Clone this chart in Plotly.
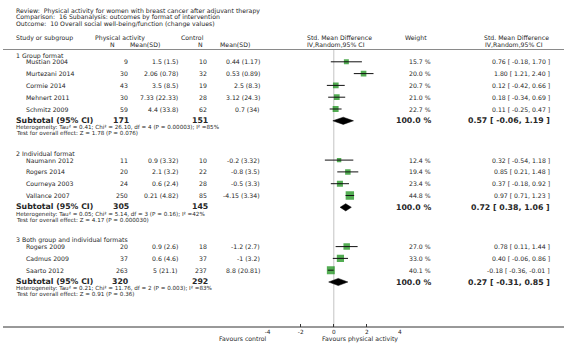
import plotly.graph_objects as go

W, H = 566, 357

# ---------------- data ----------------
title_lines = [
    "Review:  Physical activity for women with breast cancer after adjuvant therapy",
    "Comparison:  16 Subanalysis: outcomes by format of intervention",
    "Outcome:  10 Overall social well-being/function (change values)",
]
group_names = ["1 Group format", "2 Individual format", "3 Both group and individual formats"]
study_names = [
    ["Mustian 2004", "Murtezani 2014", "Cormie 2014", "Mehnert 2011", "Schmitz 2009"],
    ["Naumann 2012", "Rogers 2014", "Courneya 2003", "Vallance 2007"],
    ["Rogers 2009", "Cadmus 2009", "Saarto 2012"],
]
pa_n = [[9, 30, 43, 30, 59], [11, 20, 24, 250], [20, 37, 263]]
pa_msd = [["1.5 (1.5)", "2.06 (0.78)", "3.5 (8.5)", "7.33 (22.33)", "4.4 (33.8)"],
          ["0.9 (3.32)", "2.1 (3.2)", "0.6 (2.4)", "0.21 (4.82)"],
          ["0.9 (2.6)", "0.6 (4.6)", "5 (21.1)"]]
ct_n = [[10, 32, 19, 28, 62], [10, 22, 28, 85], [18, 37, 237]]
ct_msd = [["0.44 (1.17)", "0.53 (0.89)", "2.5 (8.3)", "3.12 (24.3)", "0.7 (34)"],
          ["-0.2 (3.32)", "-0.8 (3.5)", "-0.5 (3.3)", "-4.15 (3.34)"],
          ["-1.2 (2.7)", "-1 (3.2)", "8.8 (20.81)"]]
weights = [[15.7, 20.0, 20.7, 21.0, 22.7], [12.4, 19.4, 23.4, 44.8], [27.0, 33.0, 40.1]]
smd = [[0.76, 1.80, 0.12, 0.18, 0.11], [0.32, 0.85, 0.37, 0.97], [0.78, 0.40, -0.18]]
ci_lo = [[-0.18, 1.21, -0.42, -0.34, -0.25], [-0.54, 0.21, -0.18, 0.71], [0.11, -0.06, -0.36]]
ci_hi = [[1.70, 2.40, 0.66, 0.69, 0.47], [1.18, 1.48, 0.92, 1.23], [1.44, 0.86, -0.01]]

sub_pa_n = [171, 305, 320]
sub_ct_n = [151, 145, 292]
sub_smd = [0.57, 0.72, 0.27]
sub_lo = [-0.06, 0.38, -0.31]
sub_hi = [1.19, 1.06, 0.85]
heterogeneity = [
    "Heterogeneity: Tau² = 0.41; Chi² = 26.10, df = 4 (P = 0.00003); I² =85%",
    "Heterogeneity: Tau² = 0.05; Chi² = 5.14, df = 3 (P = 0.16); I² =42%",
    "Heterogeneity: Tau² = 0.21; Chi² = 11.76, df = 2 (P = 0.003); I² =83%",
]
overall = [
    "Test for overall effect: Z = 1.78 (P = 0.076)",
    "Test for overall effect: Z = 4.17 (P = 0.000030)",
    "Test for overall effect: Z = 0.91 (P = 0.36)",
]
tick_vals = [-4, -2, 0, 2, 4]
tick_text = ["-4", "-2", "0", "2", "4"]
favours_left = "Favours control"
favours_right = "Favours physical activity"

# ---------------- layout helpers ----------------
FONT = "DejaVu Sans"
TXT = "#262626"
FS = 6.2
FS_SMALL = 5.6
FS_BOLD = 7.8
GREEN = "#0a8a0a"

def fmt_ci(e, lo, hi):
    return f"{e:.2f} [ {lo:.2f}, {hi:.2f} ]"

annotations = []

def txt(x, y, s, anchor="left", size=FS, bold=False):
    annotations.append(dict(
        x=x / W, xref="paper", y=y, yref="y", text=f"<b>{s}</b>" if bold else s,
        showarrow=False, xanchor=anchor, yanchor="middle",
        font=dict(family=FONT, size=size, color=TXT), borderpad=0, borderwidth=0))

# column positions (px)
X_LEFT = 13
X_STUDY = 23
X_PAN = 126
X_PAMSD = 177
X_CTN = 206
X_CTMSD = 259
X_WEIGHT = 432
X_CI = 552

# title + header
for i, line in enumerate(title_lines):
    txt(X_LEFT, 10.5 + 6.8 * i, line)
txt(X_LEFT, 38, "Study or subgroup")
txt(93, 37.5, "Physical activity")
txt(110, 44, "N", anchor="center")
txt(X_PAMSD - 19, 44, "Mean(SD)", anchor="right")
txt(180, 37.5, "Control")
txt(199, 44, "N", anchor="center")
txt(249, 44, "Mean(SD)", anchor="right")
txt(307, 37.5, "Std. Mean Difference")
txt(307, 44, "IV,Random,95% CI")
txt(406, 37.5, "Weight")
txt(485, 37.5, "Std. Mean Difference")
txt(486, 44, "IV,Random,95% CI")

# compute row positions
STEP = 11.8
rows_y = []
group_y = []
sub_y = []
het_y = []
test_y = []
y = 55.5
for g in range(3):
    group_y.append(y)
    ys = [y + 6.3 + STEP * i for i in range(len(study_names[g]))]
    rows_y.append(ys)
    sy = ys[-1] + STEP
    sub_y.append(sy)
    het_y.append(sy + 6.8)
    test_y.append(sy + 12.2)
    y = sy + 11.0 + 22.0

fig = go.Figure()

ci_x, ci_y = [], []
for g in range(3):
    txt(X_LEFT, group_y[g], group_names[g])
    for i, name in enumerate(study_names[g]):
        yy = rows_y[g][i]
        txt(X_STUDY, yy, name)
        txt(X_PAN, yy, str(pa_n[g][i]), anchor="right")
        txt(X_PAMSD, yy, pa_msd[g][i], anchor="right")
        txt(X_CTN, yy, str(ct_n[g][i]), anchor="right")
        txt(X_CTMSD, yy, ct_msd[g][i], anchor="right")
        txt(X_WEIGHT, yy, f"{weights[g][i]:.1f} %", anchor="right")
        txt(X_CI, yy, fmt_ci(smd[g][i], ci_lo[g][i], ci_hi[g][i]), anchor="right")
        ci_x += [ci_lo[g][i], ci_hi[g][i], None]
        ci_y += [yy, yy, None]
    sy = sub_y[g]
    txt(X_LEFT, sy - 0.5, "Subtotal (95% CI)", size=FS_BOLD, bold=True)
    txt(X_PAN + 1, sy - 0.5, str(sub_pa_n[g]), anchor="right", size=FS_BOLD, bold=True)
    txt(X_CTN + 1, sy - 0.5, str(sub_ct_n[g]), anchor="right", size=FS_BOLD, bold=True)
    txt(X_WEIGHT, sy, "100.0 %", anchor="right", size=FS_BOLD, bold=True)
    txt(X_CI, sy, fmt_ci(sub_smd[g], sub_lo[g], sub_hi[g]), anchor="right", size=FS_BOLD, bold=True)
    txt(X_LEFT, het_y[g], heterogeneity[g], size=FS_SMALL)
    txt(X_LEFT, test_y[g], overall[g], size=FS_SMALL)

# squares
for g in range(3):
    fig.add_trace(go.Scatter(
        x=smd[g], y=rows_y[g], mode="markers",
        marker=dict(symbol="square", color=GREEN,
                    size=[1.25 * (w ** 0.5) for w in weights[g]],
                    line=dict(width=0)),
        hoverinfo="skip", showlegend=False))
# CI lines
fig.add_trace(go.Scatter(x=ci_x, y=ci_y, mode="lines",
                         line=dict(color="#111111", width=1),
                         hoverinfo="skip", showlegend=False))
# diamonds
for g in range(3):
    yc = sub_y[g]
    fig.add_trace(go.Scatter(
        x=[sub_lo[g], sub_smd[g], sub_hi[g], sub_smd[g], sub_lo[g]],
        y=[yc, yc - 3.6, yc, yc + 3.6, yc],
        mode="lines", fill="toself", fillcolor="#000000",
        line=dict(color="#000000", width=0.5),
        hoverinfo="skip", showlegend=False))

AX_Y = 327
txt(266, 338.5, favours_left, anchor="right")
txt(322, 339, favours_right)

HDR_Y = 49.5
shapes = [
    dict(type="line", xref="paper", yref="y", x0=0, x1=1, y0=HDR_Y, y1=HDR_Y,
         line=dict(color="#8a8a8a", width=1)),
    dict(type="line", xref="x", yref="y", x0=0, x1=0, y0=HDR_Y, y1=AX_Y,
         line=dict(color="#c4c4c4", width=1), layer="below"),
    dict(type="line", xref="paper", yref="y", x0=0, x1=1, y0=AX_Y, y1=AX_Y,
         line=dict(color="#333333", width=1)),
]

fig.update_layout(
    width=W, height=H,
    margin=dict(l=0, r=0, t=0, b=0),
    paper_bgcolor="white", plot_bgcolor="rgba(0,0,0,0)",
    showlegend=False,
    annotations=annotations, shapes=shapes,
    xaxis=dict(domain=[267 / W, 400.5 / W], range=[-4, 4],
               anchor="free", position=1 - AX_Y / H,
               tickvals=tick_vals, ticktext=tick_text,
               ticks="inside", ticklen=3, tickcolor="#333333", tickwidth=1,
               tickfont=dict(family=FONT, size=5.8, color=TXT),
               showgrid=False, zeroline=False, showline=False, fixedrange=True),
    yaxis=dict(domain=[0, 1], range=[H, 0], visible=False, showgrid=False,
               zeroline=False, fixedrange=True),
)

fig.write_html("out.html", config={"displayModeBar": False},
               post_script="document.body.style.margin='0';document.body.style.overflow='hidden';")
